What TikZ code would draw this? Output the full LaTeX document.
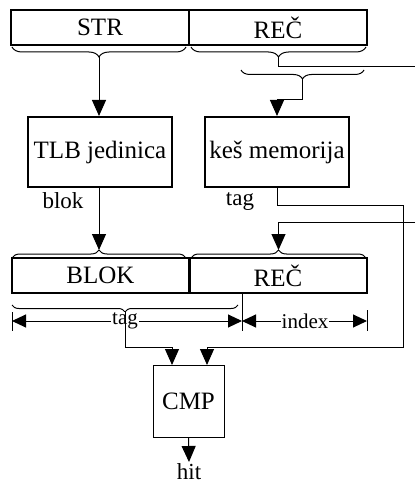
\documentclass[tikz,border=0pt]{standalone}
\usepackage{fontspec}
\setmainfont{Liberation Serif}
\usetikzlibrary{arrows.meta,decorations.pathreplacing,calc}
\tikzset{
  regbox/.style={draw, line width=2pt, minimum width=178pt, minimum height=35pt, inner sep=0pt,
    font=\fontsize{25}{28}\selectfont},
  unitbox/.style={draw, line width=2pt, minimum width=144pt, minimum height=70pt, inner sep=0pt,
    font=\fontsize{25}{28}\selectfont},
  cmpbox/.style={draw, line width=1pt, minimum width=71pt, minimum height=72pt, inner sep=0pt,
    font=\fontsize{25}{28}\selectfont},
  lbl/.style={inner sep=1pt, font=\fontsize{23}{26}\selectfont},
  dimlbl/.style={inner sep=1pt, fill=white, font=\fontsize{21}{24}\selectfont},
  wire/.style={line width=1pt},
  arr/.style={wire, -{Triangle[width=14pt,length=16pt]}},
  dimarr/.style={wire, {Triangle[width=13pt,length=14pt]}-{Triangle[width=13pt,length=14pt]}},
  brc/.style={wire, decorate, decoration={brace, amplitude=#1}},
}
\begin{document}
\begin{tikzpicture}[x=1pt, y=-1pt]
\useasboundingbox (0,0) rectangle (417,489);

% virtual address register
\node[regbox] (str) at (100,27.5) {STR};
\node[regbox] (rec1) at (278,27.5) {REČ};

% translation units
\node[unitbox] (tlb) at (100,152) {TLB jedinica};
\node[unitbox] (kes) at (277,152) {keš memorija};
\node[lbl, anchor=north] (blok) at (63,191) {blok};
\node[lbl, anchor=north] (tagk) at (240,191) {tag};

% physical address register
\node[regbox] (blk) at (100.5,275.5) {BLOK};
\node[regbox] (rec2) at (278,275.5) {REČ};

% comparator
\node[cmpbox] (cmp) at (188.5,401) {CMP};
\node[lbl, anchor=north] (hit) at (189,462) {hit};

% braces
\draw[brc=10pt] (186,47) -- (12,47);
\coordinate (tA) at (99,57);
\draw[brc=10pt] (366,47) -- (191,47);
\coordinate (tB) at (278.5,57);
\draw[brc=9pt] (364,70) -- (241,70);
\coordinate (tC) at (302.5,79);
\draw[brc=8pt] (12,258) -- (186,258);
\coordinate (tD) at (99,250);
\draw[brc=8pt] (191,258) -- (366,258);
\coordinate (tE) at (278.5,250);
\draw[brc=7pt] (238,305) -- (12,305);
\coordinate (tF) at (125,312);

% free ends on the right
\coordinate (outA) at (415,67);
\coordinate (outB) at (415,222);

% dimension lines under the physical address
\draw[wire] (12,312) -- (12,331);
\draw[wire] (242,293) -- (242,331);
\draw[wire] (367,310) -- (367,331);
\draw[dimarr] (12,321) -- (242,321);
\draw[dimarr] (242,321) -- (367,321);
\node[dimlbl] (tagd) at (125,321) {tag};
\node[dimlbl] (idx) at (305,321) {index};

% connectors
\draw[arr] (tA) -- (tA |- tlb.north);
\draw[wire] (tB) |- (outA);
\draw[arr] (tC) -- ($(tC)+(0,21)$) -| (kes.north);
\draw[arr] (tlb.south -| tD) -- (tD);
\draw[arr] (outB) -| (tE);
\draw[arr] (kes.south) |- (403,205) |- (207,347) -- (207,365);
\draw[arr] (tF) |- (172,347) -- (172,365);
\draw[arr] (cmp.south) -- (hit.north);
\end{tikzpicture}
\end{document}
